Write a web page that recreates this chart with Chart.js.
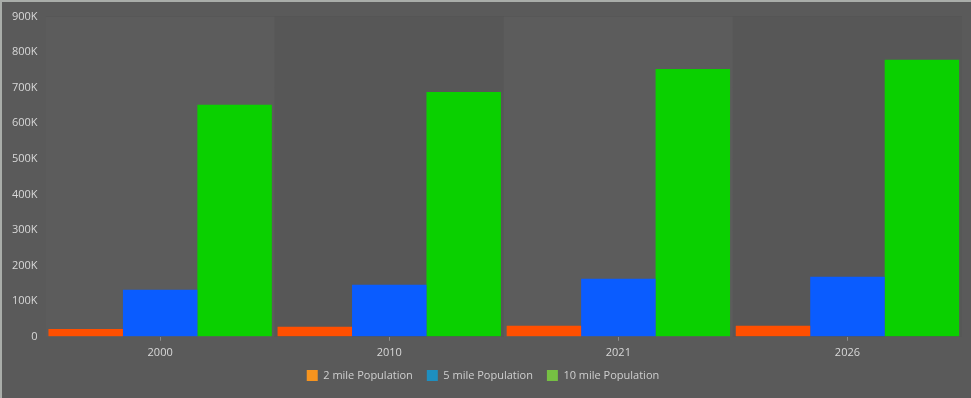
<!DOCTYPE html>
<html>
<head>
<meta charset="utf-8">
<script src="https://cdn.jsdelivr.net/npm/chart.js@4"></script>
<style>
  html, body { margin: 0; padding: 0; background: #5a5a5a; }
  #wrap {
    width: 969px; height: 396px;
    border-top: 2px solid #a9ada9;
    border-left: 2px solid #a9ada9;
    background: #5a5a5a;
  }
</style>
</head>
<body>
<div id="wrap"><canvas id="popChart"></canvas></div>
<script>
const years = ['2000', '2010', '2021', '2026'];
const twoMile = [22000, 28000, 31000, 31000];
const fiveMile = [132000, 146000, 163000, 169000];
const tenMile = [652000, 688000, 753000, 779000];
const yTicks = [0, 100000, 200000, 300000, 400000, 500000, 600000, 700000, 800000, 900000];

const barColors = ['#ff4f00', '#0a5cff', '#0ad000'];
const legendColors = ['#f7941e', '#1e8fc0', '#76c043'];

// alternating shaded column behind each year
const bandPlugin = {
    id: 'bands',
    beforeDatasetsDraw(chart) {
        const { ctx, chartArea } = chart;
        const w = (chartArea.right - chartArea.left) / years.length;
        ctx.save();
        years.forEach((y, i) => {
            ctx.fillStyle = i % 2 === 0 ? '#5c5c5c' : '#575757';
            ctx.fillRect(chartArea.left + i * w, chartArea.top, w, chartArea.bottom - chartArea.top);
        });
        ctx.restore();
    }
};

// keep wide gaps between legend items but pull the legend up closer to the axis
const compactLegend = {
    id: 'compactLegend',
    afterInit(chart) {
        const lg = chart.legend;
        const fit = lg.fit;
        lg.fit = function () { fit.call(this); this.height -= 10; };
        const draw = lg.draw;
        lg.draw = function () {
            this.ctx.save();
            this.ctx.translate(0, -8);
            draw.apply(this, arguments);
            this.ctx.restore();
        };
    }
};

const ctx = document.getElementById('popChart').getContext('2d');
new Chart(ctx, {
    type: 'bar',
    data: {
        labels: years,
        datasets: [
            { label: '2 mile Population', data: twoMile, backgroundColor: barColors[0] },
            { label: '5 mile Population', data: fiveMile, backgroundColor: barColors[1] },
            { label: '10 mile Population', data: tenMile, backgroundColor: barColors[2] }
        ]
    },
    options: {
        responsive: true,
        maintainAspectRatio: false,
        animation: false,
        layout: { padding: { top: 10, right: 9, left: 2, bottom: 9 } },
        datasets: { bar: { categoryPercentage: 0.975, barPercentage: 1 } },
        scales: {
            x: {
                grid: { drawOnChartArea: false, offset: false, tickLength: 4, color: '#8a8a8a' },
                border: { display: false },
                ticks: { color: '#d8d8d8', font: { family: 'Open Sans', size: 11 }, padding: 5 }
            },
            y: {
                min: 0,
                max: 900000,
                afterBuildTicks: axis => { axis.ticks = yTicks.map(v => ({ value: v })); },
                grid: { color: 'rgba(0,0,0,0.06)', drawTicks: false },
                border: { display: false },
                ticks: {
                    color: '#d8d8d8',
                    font: { family: 'Open Sans', size: 11 },
                    padding: 8,
                    callback: v => v === 0 ? '0' : (v / 1000) + 'K'
                }
            }
        },
        plugins: {
            tooltip: { enabled: false },
            legend: {
                position: 'bottom',
                labels: {
                    color: '#cfcfcf',
                    font: { family: 'Open Sans', size: 11 },
                    boxWidth: 11,
                    boxHeight: 11,
                    padding: 14,
                    generateLabels: chart => chart.data.datasets.map((ds, i) => ({
                        text: ds.label,
                        fillStyle: legendColors[i],
                        strokeStyle: legendColors[i],
                        lineWidth: 0,
                        fontColor: '#cfcfcf',
                        datasetIndex: i
                    }))
                }
            }
        }
    },
    plugins: [bandPlugin, compactLegend]
});
</script>
</body>
</html>
